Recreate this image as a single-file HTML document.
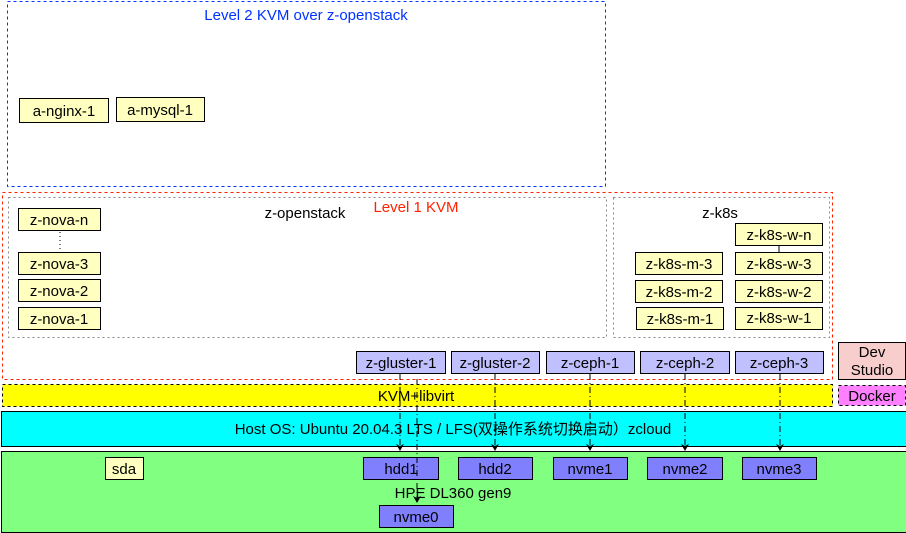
<!DOCTYPE html>
<html><head><meta charset="utf-8"><style>
html,body{margin:0;padding:0;background:#fff;}
svg{display:block;font-family:"Liberation Sans","Noto Sans CJK SC",sans-serif;font-size:15px;}
</style></head><body>
<svg width="906" height="533" viewBox="0 0 906 533" xmlns="http://www.w3.org/2000/svg">
<!-- Level 2 -->
<rect x="7.5" y="1.5" width="598" height="185" fill="none" stroke="#0033ff" stroke-dasharray="3,3"/>
<text x="306" y="20" text-anchor="middle" fill="#0033ff">Level 2 KVM over z-openstack</text>
<g stroke="#000" fill="#ffffc0">
<rect x="19.5" y="98.5" width="89" height="24"/><rect x="116.5" y="97.5" width="88" height="24"/>
</g>
<text x="64" y="116" text-anchor="middle">a-nginx-1</text>
<text x="160" y="115" text-anchor="middle">a-mysql-1</text>
<!-- Level 1 -->
<rect x="2.5" y="192.5" width="830" height="187" fill="none" stroke="#ff2200" stroke-dasharray="3,3"/>
<rect x="8.5" y="197.5" width="598" height="140" fill="none" stroke="#888" stroke-dasharray="2,3"/>
<rect x="613.5" y="197.5" width="216" height="140" fill="none" stroke="#888" stroke-dasharray="2,3"/>
<text x="305" y="218" text-anchor="middle">z-openstack</text>
<text x="416" y="212" text-anchor="middle" fill="#ff2200">Level 1 KVM</text>
<text x="720" y="218" text-anchor="middle">z-k8s</text>
<line x1="60" y1="232" x2="60" y2="251" stroke="#000" stroke-dasharray="1,3"/>
<line x1="779" y1="246" x2="779" y2="252" stroke="#000"/>
<g stroke="#000" fill="#ffffc0">
<rect x="18.5" y="208.5" width="82" height="22"/><rect x="18.5" y="252.5" width="82" height="22"/>
<rect x="18.5" y="279.5" width="82" height="22"/><rect x="18.5" y="307.5" width="82" height="22"/>
<rect x="635.5" y="252.5" width="87" height="22"/><rect x="635.5" y="280.5" width="87" height="22"/>
<rect x="636.5" y="307.5" width="87" height="22"/>
<rect x="735.5" y="223.5" width="87" height="22"/><rect x="735.5" y="252.5" width="87" height="22"/>
<rect x="735.5" y="280.5" width="87" height="22"/><rect x="735.5" y="307.5" width="87" height="22"/>
</g>
<g text-anchor="middle">
<text x="59" y="225">z-nova-n</text><text x="59" y="269">z-nova-3</text>
<text x="59" y="296">z-nova-2</text><text x="59" y="324">z-nova-1</text>
<text x="679" y="269">z-k8s-m-3</text><text x="679" y="297">z-k8s-m-2</text><text x="680" y="324">z-k8s-m-1</text>
<text x="779" y="240">z-k8s-w-n</text><text x="779" y="269">z-k8s-w-3</text>
<text x="779" y="297">z-k8s-w-2</text><text x="779" y="323">z-k8s-w-1</text>
</g>
<!-- right side -->
<rect x="838.5" y="342.5" width="67" height="37" fill="#f8cecc" stroke="#000"/>
<text x="872" y="357" text-anchor="middle">Dev</text><text x="872" y="375" text-anchor="middle">Studio</text>
<rect x="838.5" y="385.5" width="67" height="20" fill="#ff80ff" stroke="#000" stroke-dasharray="3,3"/>
<text x="872" y="401" text-anchor="middle">Docker</text>
<!-- layers -->
<rect x="2.5" y="384.5" width="830" height="22" fill="#ffff00" stroke="#000" stroke-dasharray="3,3"/>
<text x="416" y="401" text-anchor="middle">KVM+libvirt</text>
<rect x="1.5" y="411.5" width="905" height="35" fill="#00ffff" stroke="#000"/>
<text x="453" y="434" text-anchor="middle">Host OS: Ubuntu 20.04.3 LTS / LFS(双操作系统切换启动）zcloud</text>
<rect x="1.5" y="451.5" width="905" height="81" fill="#80ff80" stroke="#000"/>
<rect x="105.5" y="457.5" width="38" height="22" fill="#ffffc0" stroke="#000"/>
<text x="124" y="474" text-anchor="middle">sda</text>
<text x="453" y="498" text-anchor="middle">HPE DL360 gen9</text>
<!-- VM row -->
<g stroke="#000" fill="#c0c0ff">
<rect x="356.5" y="351.5" width="89" height="22"/><rect x="451.5" y="351.5" width="88" height="22"/>
<rect x="546.5" y="351.5" width="88" height="22"/><rect x="640.5" y="351.5" width="89" height="22"/>
<rect x="735.5" y="351.5" width="88" height="22"/>
</g>
<g text-anchor="middle">
<text x="401" y="368">z-gluster-1</text><text x="495" y="368">z-gluster-2</text>
<text x="590" y="368">z-ceph-1</text><text x="685" y="368">z-ceph-2</text><text x="779" y="368">z-ceph-3</text>
</g>
<!-- disks -->
<g stroke="#000" fill="#8080ff">
<rect x="363.5" y="457.5" width="75" height="22"/><rect x="458.5" y="457.5" width="74" height="22"/>
<rect x="553.5" y="457.5" width="74" height="22"/><rect x="647.5" y="457.5" width="75" height="22"/>
<rect x="742.5" y="457.5" width="74" height="22"/><rect x="379.5" y="505.5" width="74" height="22"/>
</g>
<g text-anchor="middle">
<text x="401" y="474">hdd1</text><text x="495" y="474">hdd2</text><text x="590" y="474">nvme1</text>
<text x="685" y="474">nvme2</text><text x="779" y="474">nvme3</text><text x="416" y="522">nvme0</text>
</g>
<!-- connectors -->
<g stroke="#000" stroke-dasharray="6,3,1,3" fill="none">
<line x1="400" y1="374" x2="400" y2="449"/><line x1="495" y1="374" x2="495" y2="449"/>
<line x1="590" y1="374" x2="590" y2="449"/><line x1="685" y1="374" x2="685" y2="449"/>
<line x1="780" y1="374" x2="780" y2="449"/><line x1="417" y1="379" x2="417" y2="501"/>
</g>
<g fill="#000">
<path d="M396,444 L400,451 L404,444 L400,446Z"/><path d="M491,444 L495,451 L499,444 L495,446Z"/>
<path d="M586,444 L590,451 L594,444 L590,446Z"/><path d="M681,444 L685,451 L689,444 L685,446Z"/>
<path d="M776,444 L780,451 L784,444 L780,446Z"/><path d="M413,496 L417,503 L421,496 L417,498Z"/>
</g>
</svg>
</body></html>
